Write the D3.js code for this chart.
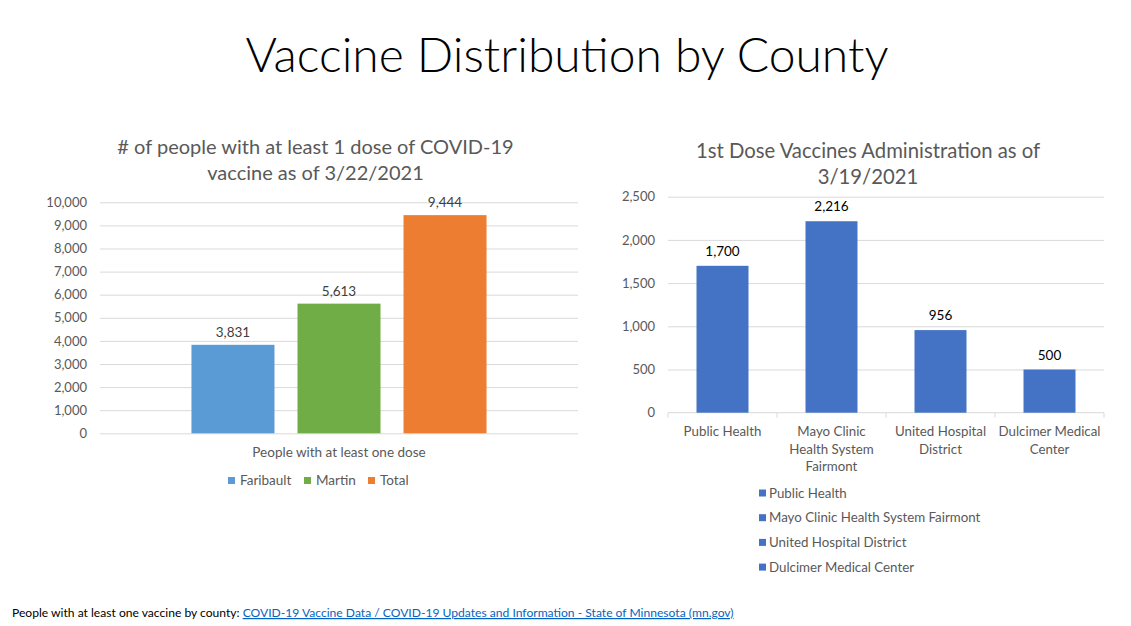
<!DOCTYPE html>
<html>
<head>
<meta charset="utf-8">
<script src="https://cdn.jsdelivr.net/npm/d3@7"></script>
<style>
  body { margin: 0; background: #fff; }
  text { font-family: Lato, "Noto Sans", sans-serif; }
</style>
</head>
<body>
<div id="slide"></div>
<script>
// slide text
const slideTitle = "Vaccine Distribution by County";
const footLead = "People with at least one vaccine by county: ";
const footLink = "COVID-19 Vaccine Data / COVID-19 Updates and Information - State of Minnesota (mn.gov)";

// left chart data
const leftTitle = ["# of people with at least 1 dose of COVID-19", "vaccine as of 3/22/2021"];
const leftCategory = ["People with at least one dose"];
const leftSeries = ["Faribault", "Martin", "Total"];
const leftValues = [3831, 5613, 9444];
const leftColors = ["#5B9BD5", "#70AD47", "#ED7D31"];
const leftTicks = [0, 1000, 2000, 3000, 4000, 5000, 6000, 7000, 8000, 9000, 10000];

// right chart data
const rightTitle = ["1st Dose Vaccines Administration as of", "3/19/2021"];
const rightCategories = ["Public Health", "Mayo Clinic Health System Fairmont", "United Hospital District", "Dulcimer Medical Center"];
const rightTickLines = [["Public Health"], ["Mayo Clinic", "Health System", "Fairmont"], ["United Hospital", "District"], ["Dulcimer Medical", "Center"]];
const rightValues = [1700, 2216, 956, 500];
const rightColor = "#4472C4";
const rightTicks = [0, 500, 1000, 1500, 2000, 2500];

const W = 1131, H = 626;
const grey = "#595959", grid = "#D9D9D9";
const fmt = d3.format(",");

var svg = d3.select("#slide")
            .append("svg")
            .attr("width", W)
            .attr("height", H);

svg.append("rect").attr("width", W).attr("height", H).attr("fill", "#fff");

// big title
svg.append("text")
    .attr("x", 567)
    .attr("y", 72)
    .attr("text-anchor", "middle")
    .attr("fill", "#000")
    .style("font-size", "48px")
    .style("font-weight", 300)
    .text(slideTitle);

//---------------- left chart ----------------
var lTop = 202.3, lBottom = 433.3, lLeft = 100, lRight = 578;

var lY = d3.scaleLinear().domain([0, 10000]).range([lBottom, lTop]);

var lX = d3.scaleBand() //one category
            .domain(leftCategory)
            .range([lLeft, lRight])
            .paddingInner(0)
            .paddingOuter(0.31);

var lXs = d3.scaleBand() //series inside the category
            .domain(leftSeries)
            .range([0, lX.bandwidth()])
            .paddingInner(0.217);

leftTitle.forEach((t, i) => {
    svg.append("text")
        .attr("x", 315.5)
        .attr("y", 154 + i * 25.5)
        .attr("text-anchor", "middle")
        .attr("fill", grey)
        .style("font-size", "20px")
        .text(t);
});

// gridlines + y labels
var lAxis = svg.append("g")
    .attr("transform", "translate(" + lLeft + ",0)")
    .call(d3.axisLeft(lY).tickValues(leftTicks).tickFormat(fmt).tickSize(-(lRight - lLeft)).tickPadding(13));
lAxis.select(".domain").remove();
lAxis.selectAll("line").attr("stroke", grid);
lAxis.selectAll("text").attr("fill", grey).style("font-size", "13px").style("font-family", "Lato");

var lBars = svg.append("g");
lBars.selectAll("rect")
    .data(leftValues)
    .enter()
    .append("rect")
    .attr("x", (d, i) => lX(leftCategory[0]) + lXs(leftSeries[i]))
    .attr("y", d => lY(d))
    .attr("width", lXs.bandwidth())
    .attr("height", d => lBottom - lY(d))
    .attr("fill", (d, i) => leftColors[i]);

lBars.selectAll("text")
    .data(leftValues)
    .enter()
    .append("text")
    .attr("x", (d, i) => lX(leftCategory[0]) + lXs(leftSeries[i]) + lXs.bandwidth() / 2)
    .attr("y", d => lY(d) - 8)
    .attr("text-anchor", "middle")
    .attr("fill", "#404040")
    .style("font-size", "13.5px")
    .text(d => fmt(d));

// category label
svg.append("text")
    .attr("x", lX(leftCategory[0]) + lX.bandwidth() / 2)
    .attr("y", 457)
    .attr("text-anchor", "middle")
    .attr("fill", grey)
    .style("font-size", "13.5px")
    .text(leftCategory[0]);

// legend
var legX = [228, 304, 368];
leftSeries.forEach((s, i) => {
    svg.append("rect")
        .attr("x", legX[i]).attr("y", 477).attr("width", 7).attr("height", 7)
        .attr("fill", leftColors[i]);
    svg.append("text")
        .attr("x", legX[i] + 12).attr("y", 485)
        .attr("fill", grey)
        .style("font-size", "13.5px")
        .text(s);
});

//---------------- right chart ----------------
var rTop = 196.7, rBottom = 412.7, rLeft = 668, rRight = 1104;

var rY = d3.scaleLinear().domain([0, 2500]).range([rBottom, rTop]);

var rX = d3.scaleBand()
            .domain(rightCategories)
            .range([rLeft, rRight])
            .paddingInner(0.523)
            .paddingOuter(0.2615);

rightTitle.forEach((t, i) => {
    svg.append("text")
        .attr("x", 868)
        .attr("y", 158 + i * 26)
        .attr("text-anchor", "middle")
        .attr("fill", grey)
        .style("font-size", "20.3px")
        .text(t);
});

var rAxis = svg.append("g")
    .attr("transform", "translate(" + rLeft + ",0)")
    .call(d3.axisLeft(rY).tickValues(rightTicks.slice(1)).tickFormat(fmt).tickSize(-(rRight - rLeft)).tickPadding(13));
rAxis.select(".domain").remove();
rAxis.selectAll("line").attr("stroke", grid);
rAxis.selectAll("text").attr("fill", grey).style("font-size", "13px").style("font-family", "Lato");

// zero label
svg.append("text")
    .attr("x", rLeft - 13).attr("y", rY(rightTicks[0]) + 4.5)
    .attr("text-anchor", "end")
    .attr("fill", grey)
    .style("font-size", "13px")
    .text(fmt(rightTicks[0]));

// x axis line with boundary ticks
svg.append("line")
    .attr("x1", rLeft).attr("x2", rRight)
    .attr("y1", rBottom).attr("y2", rBottom)
    .attr("stroke", grid);
var bounds = rightCategories.map(c => rX(c) - rX.step() * rX.paddingInner() / 2);
bounds.push(rRight);
svg.selectAll(".rtick")
    .data(bounds)
    .enter()
    .append("line")
    .attr("class", "rtick")
    .attr("x1", d => d).attr("x2", d => d)
    .attr("y1", rBottom).attr("y2", rBottom + 5)
    .attr("stroke", grid);

var rBars = svg.append("g");
rBars.selectAll("rect")
    .data(rightValues)
    .enter()
    .append("rect")
    .attr("x", (d, i) => rX(rightCategories[i]))
    .attr("y", d => rY(d))
    .attr("width", rX.bandwidth())
    .attr("height", d => rBottom - rY(d))
    .attr("fill", rightColor);

rBars.selectAll("text")
    .data(rightValues)
    .enter()
    .append("text")
    .attr("x", (d, i) => rX(rightCategories[i]) + rX.bandwidth() / 2)
    .attr("y", d => rY(d) - 10)
    .attr("text-anchor", "middle")
    .attr("fill", "#000")
    .style("font-size", "13.5px")
    .text(d => fmt(d));

// wrapped category labels
rightTickLines.forEach((lines, i) => {
    var cx = rX(rightCategories[i]) + rX.bandwidth() / 2;
    lines.forEach((l, j) => {
        svg.append("text")
            .attr("x", cx)
            .attr("y", 436 + j * 17.5)
            .attr("text-anchor", "middle")
            .attr("fill", grey)
            .style("font-size", "13.3px")
            .text(l);
    });
});

// vertical legend
rightCategories.forEach((c, i) => {
    var y = 493 + i * 24.7;
    svg.append("rect")
        .attr("x", 759).attr("y", y - 3.5).attr("width", 7).attr("height", 7)
        .attr("fill", rightColor);
    svg.append("text")
        .attr("x", 769).attr("y", y + 4.5)
        .attr("fill", grey)
        .style("font-size", "13.3px")
        .text(c);
});

//---------------- footnote ----------------
var foot = svg.append("text")
    .attr("x", 12)
    .attr("y", 617)
    .attr("fill", "#000")
    .style("font-size", "12.1px");
foot.append("tspan").text(footLead);
foot.append("tspan")
    .attr("fill", "#0563C1")
    .style("text-decoration", "underline")
    .text(footLink);
</script>
</body>
</html>
